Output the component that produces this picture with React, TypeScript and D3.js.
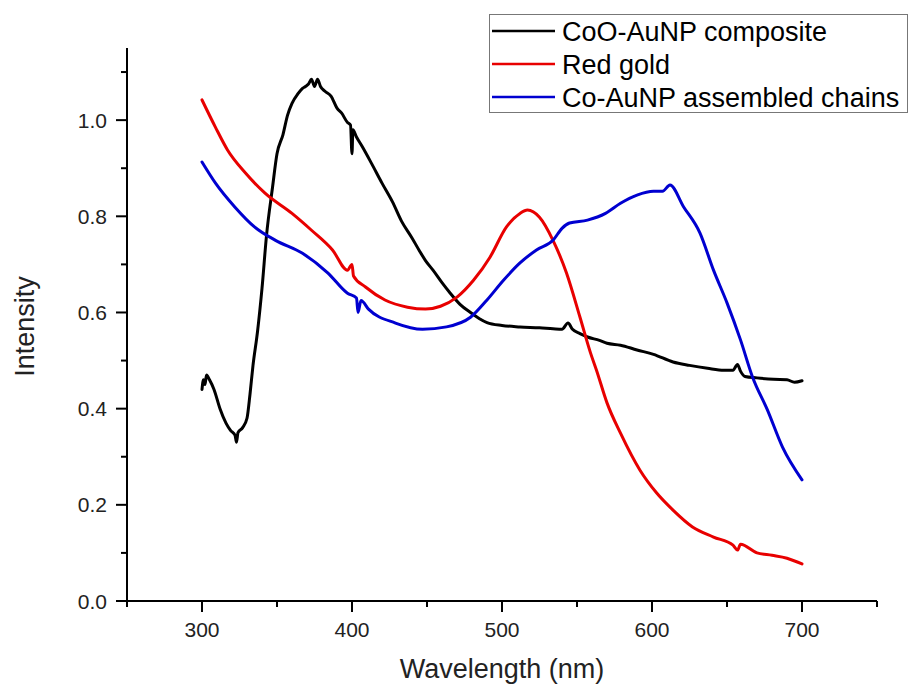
import React from "react";
import * as d3 from "d3";

// ---------- data ----------
const seriesNames = ["CoO-AuNP composite", "Red gold", "Co-AuNP assembled chains"];
const seriesColors = ["#000000", "#e80000", "#0000d0"];

const xTicks = [300, 400, 500, 600, 700];
const yTicks = [0.0, 0.2, 0.4, 0.6, 0.8, 1.0];

// CoO-AuNP composite
const compositeWl = [300, 301, 302, 303, 305, 308, 312, 316, 319, 322, 323, 324, 327, 330, 332, 334, 337, 340, 343, 347, 350, 354, 357, 360, 364, 367, 369, 371, 373, 375, 377, 379, 382, 386, 390, 393, 397, 399, 400, 400.6, 403, 407, 413, 420, 427, 433, 440, 445, 449, 454, 460, 465, 472, 479, 485, 490, 500, 512, 525, 534, 540, 544, 547, 552, 557, 565, 570, 579, 590, 601, 614, 625, 637, 648, 654, 657, 659, 662, 670, 681, 690, 695, 700];
const compositeVal = [0.44, 0.46, 0.45, 0.47, 0.46, 0.44, 0.40, 0.37, 0.355, 0.345, 0.33, 0.35, 0.36, 0.38, 0.43, 0.49, 0.56, 0.65, 0.76, 0.86, 0.93, 0.97, 1.01, 1.035, 1.055, 1.066, 1.07, 1.075, 1.085, 1.07, 1.085, 1.07, 1.06, 1.05, 1.025, 1.015, 0.995, 0.99, 0.93, 0.98, 0.965, 0.944, 0.91, 0.869, 0.83, 0.79, 0.755, 0.728, 0.708, 0.688, 0.662, 0.642, 0.617, 0.6, 0.587, 0.579, 0.573, 0.57, 0.568, 0.566, 0.565, 0.578, 0.565, 0.556, 0.549, 0.542, 0.536, 0.532, 0.522, 0.513, 0.497, 0.49, 0.484, 0.48, 0.48, 0.492, 0.478, 0.467, 0.464, 0.461, 0.46, 0.455, 0.458];

// Red gold
const redWl = [300, 309, 317, 329, 342, 360, 373, 387, 397, 400, 401, 409, 422, 437, 449, 459, 470, 481, 492, 503, 512, 517, 525, 534, 543, 552, 559, 563, 570, 579, 592, 603, 614, 627, 641, 654, 657, 659, 670, 680, 690, 700];
const redVal = [1.042, 0.985, 0.938, 0.89, 0.848, 0.806, 0.771, 0.73, 0.688, 0.70, 0.676, 0.653, 0.626, 0.611, 0.607, 0.613, 0.632, 0.667, 0.715, 0.778, 0.806, 0.813, 0.798, 0.75, 0.682, 0.59, 0.516, 0.48, 0.412, 0.349, 0.272, 0.225, 0.189, 0.154, 0.133, 0.116, 0.106, 0.118, 0.1, 0.095, 0.089, 0.077];

// Co-AuNP assembled chains
const blueWl = [300, 309, 322, 335, 349, 367, 384, 397, 403, 404, 406, 411, 429, 447, 463, 479, 490, 501, 512, 523, 534, 540, 545, 557, 569, 579, 590, 601, 607, 612, 621, 632, 641, 650, 659, 667, 677, 687, 700];
const blueVal = [0.913, 0.869, 0.819, 0.778, 0.75, 0.723, 0.682, 0.64, 0.63, 0.60, 0.625, 0.607, 0.578, 0.565, 0.57, 0.59, 0.626, 0.667, 0.703, 0.73, 0.75, 0.775, 0.786, 0.792, 0.806, 0.827, 0.844, 0.852, 0.852, 0.865, 0.82, 0.765, 0.688, 0.62, 0.543, 0.466, 0.397, 0.32, 0.252];

const seriesWl = [compositeWl, redWl, blueWl];
const seriesVal = [compositeVal, redVal, blueVal];

// ---------- layout ----------
const W = 909;
const H = 687;
const M = { left: 127, right: 877, top: 48, bottom: 601 };
const FONT = "'Liberation Sans', Arial, Helvetica, sans-serif";

export default function App() {
  const x = d3.scaleLinear().domain([250, 750]).range([M.left, M.right]);
  const y = d3.scaleLinear().domain([0, 1.15]).range([M.bottom, M.top]);

  const line = d3
    .line<[number, number]>()
    .x((d) => x(d[0]))
    .y((d) => y(d[1]))
    .curve(d3.curveMonotoneX);

  const xMinor = d3.range(250, 751, 100);
  const yMinor = d3.range(0.1, 1.15, 0.2);

  return (
    <svg
      width={W}
      height={H}
      style={{ position: "absolute", left: 0, top: 0, background: "#fff" }}
      fontFamily={FONT}
    >
      <rect x={0} y={0} width={W} height={H} fill="#fff" />

      {/* series */}
      {seriesWl.map((wl, i) => {
        const pts = wl.map((w, j) => [w, seriesVal[i][j]] as [number, number]);
        return (
          <path
            key={i}
            d={line(pts) || ""}
            fill="none"
            stroke={seriesColors[i]}
            strokeWidth={3}
            strokeLinejoin="round"
            strokeLinecap="round"
          />
        );
      })}

      {/* axes */}
      <line x1={M.left} x2={M.left} y1={M.top} y2={M.bottom} stroke="#000" strokeWidth={2} />
      <line x1={M.left - 1} x2={M.right} y1={M.bottom} y2={M.bottom} stroke="#000" strokeWidth={2} />

      {/* y ticks */}
      {yTicks.map((t) => (
        <g key={"y" + t}>
          <line x1={M.left - 11} x2={M.left} y1={y(t)} y2={y(t)} stroke="#000" strokeWidth={2} />
          <text x={107} y={y(t)} dy="0.36em" textAnchor="end" fontSize={21} fill="#222">
            {t.toFixed(1)}
          </text>
        </g>
      ))}
      {yMinor.map((t) => (
        <line key={"ym" + t} x1={M.left - 6} x2={M.left} y1={y(t)} y2={y(t)} stroke="#000" strokeWidth={2} />
      ))}

      {/* x ticks */}
      {xTicks.map((t) => (
        <g key={"x" + t}>
          <line x1={x(t)} x2={x(t)} y1={M.bottom} y2={M.bottom + 11} stroke="#000" strokeWidth={2} />
          <text x={x(t)} y={637} textAnchor="middle" fontSize={21} fill="#222">
            {t}
          </text>
        </g>
      ))}
      {xMinor.map((t) => (
        <line key={"xm" + t} x1={x(t)} x2={x(t)} y1={M.bottom} y2={M.bottom + 6} stroke="#000" strokeWidth={2} />
      ))}

      {/* axis titles */}
      <text x={(M.left + M.right) / 2} y={678} textAnchor="middle" fontSize={27} fill="#222">
        Wavelength (nm)
      </text>
      <text
        transform={`translate(34, ${(M.top + M.bottom) / 2 + 2}) rotate(-90)`}
        textAnchor="middle"
        fontSize={27}
        fill="#222"
      >
        Intensity
      </text>

      {/* legend */}
      <rect x={489.5} y={14.5} width={418} height={98} fill="#fff" stroke="#777" strokeWidth={1} />
      {seriesNames.map((name, i) => {
        const cy = 31 + i * 33;
        return (
          <g key={name}>
            <line x1={492} x2={555} y1={cy} y2={cy} stroke={seriesColors[i]} strokeWidth={2.6} />
            <text x={562} y={cy + 9.5} fontSize={27} fill="#000">
              {name}
            </text>
          </g>
        );
      })}
    </svg>
  );
}
